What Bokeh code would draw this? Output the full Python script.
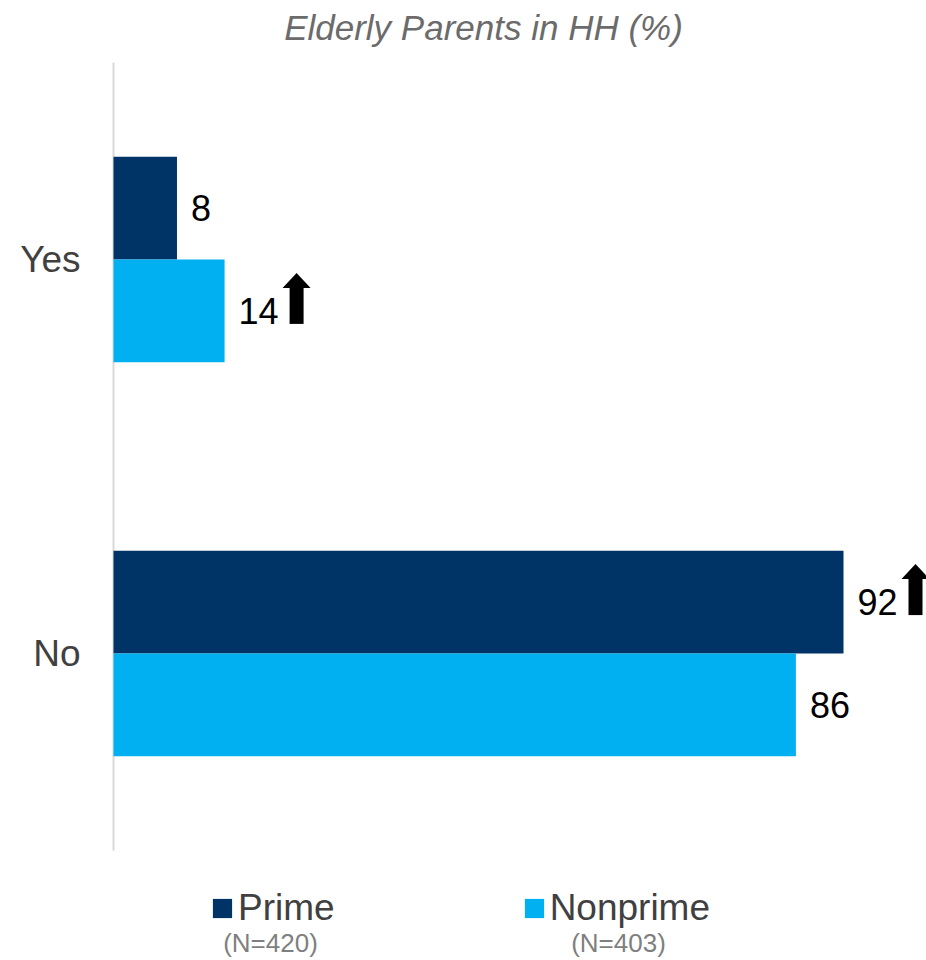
from bokeh.plotting import figure
from bokeh.models import Range1d, FixedTicker, Label, Legend, LegendItem, ColumnDataSource
from bokeh.core.properties import value
from bokeh.embed import file_html
from bokeh.resources import INLINE

# ---- data ----
categories = ["Yes", "No"]
series = ["Prime", "Nonprime"]
sample_sizes = ["(N=420)", "(N=403)"]
prime = [8, 92]
nonprime = [14, 86]
prime_up = [False, True]
nonprime_up = [True, False]
title_text = "Elderly Parents in HH (%)"
colors = ["#003366", "#00B0F0"]

# ---- layout constants (pixels) ----
W, H = 926, 960
LEFT = 111               # frame starts here; value 0 sits at x=113
ZERO_PX = 113
PLOT_TOP, PLOT_BOTTOM = 62, 850
FULL_PX = 843            # pixel where value 92 ends
FONT = "Liberation Sans"

n = len(categories)
SX = (FULL_PX - ZERO_PX) / max(prime + nonprime)
SY = (PLOT_BOTTOM - PLOT_TOP) / n
FW = W - LEFT
x_lo = -(ZERO_PX - LEFT) / SX
x_hi = x_lo + FW / SX
y_lo = -(H - PLOT_BOTTOM) / SY
y_hi = n + PLOT_TOP / SY
BH = 0.261               # bar height (y units)

p = figure(width=W, height=H, output_backend="svg", toolbar_location=None,
           x_range=Range1d(x_lo, x_hi), y_range=Range1d(y_lo, y_hi),
           x_axis_location=None,
           min_border_left=LEFT, min_border_right=0,
           min_border_top=0, min_border_bottom=0)
p.outline_line_color = None
p.grid.visible = False
p.background_fill_color = "white"
p.border_fill_color = "white"

# category axis line (only over the plotting band)
p.segment(x0=[0], y0=[0], x1=[0], y1=[n], line_color="#d9d9d9", line_width=2)

centers = [n - i - 0.5 for i in range(n)]
offsets = [BH / 2, -BH / 2]

renderers = []
for s, vals, ups, col, off in zip(series, [prime, nonprime], [prime_up, nonprime_up], colors, offsets):
    ys = [c + off for c in centers]
    src = ColumnDataSource(dict(y=ys, v=vals, t=[str(v) for v in vals]))
    r = p.hbar(y="y", left=0, right="v", height=BH, source=src,
               fill_color=col, line_color=None)
    renderers.append(r)
    p.text(x="v", y="y", text="t", source=src, x_offset=14,
           text_baseline="middle", text_align="left",
           text_font=value(FONT), text_font_size="36px", text_color="black")
    # significance arrows
    ax, ay = [], []
    for v, y, up in zip(vals, ys, ups):
        if up:
            ax.append(v)
            ay.append(y)
    if ax:
        DX, HALF_SHAFT, HALF_HEAD = 72, 7, 14
        TOP_PX, HEAD_PX, BOT_PX = 38, 15, 13
        cx = [x + DX / SX for x in ax]
        tops = [y + TOP_PX / SY for y in ay]
        bases = [t - HEAD_PX / SY for t in tops]
        bots = [y - BOT_PX / SY for y in ay]
        p.quad(left=[c - HALF_SHAFT / SX for c in cx], right=[c + HALF_SHAFT / SX for c in cx],
               top=[b + 0.5 / SY for b in bases], bottom=bots, fill_color="black", line_color=None)
        p.patches(xs=[[c - HALF_HEAD / SX, c + HALF_HEAD / SX, c] for c in cx],
                  ys=[[b, b, t] for b, t in zip(bases, tops)],
                  fill_color="black", line_color=None)

# y axis with category labels
yaxis = p.yaxis[0]
yaxis.ticker = FixedTicker(ticks=centers)
yaxis.major_label_overrides = {c: cat for c, cat in zip(centers, categories)}
yaxis.axis_line_color = None
yaxis.major_tick_line_color = None
yaxis.minor_tick_line_color = None
yaxis.major_label_standoff = 25
yaxis.major_label_text_font = FONT
yaxis.major_label_text_font_size = "37px"
yaxis.major_label_text_color = "#404040"

# legend (area glyphs are drawn at 80% of the glyph box)
legend = Legend(items=[LegendItem(label=s, renderers=[r]) for s, r in zip(series, renderers)],
                orientation="horizontal", location=(210 - LEFT, 31),
                glyph_width=24, glyph_height=24, label_standoff=4, spacing=187,
                padding=0, margin=0, border_line_color=None, background_fill_alpha=0,
                label_text_font=FONT, label_text_font_size="37px", label_text_color="#404040")
p.add_layout(legend, "center")

for xs, t in zip([270, 618], sample_sizes):
    p.add_layout(Label(x=xs - LEFT, y=H - 942, x_units="screen", y_units="screen", text=t,
                       text_align="center", text_baseline="middle",
                       text_font=FONT, text_font_size="26px", text_color="#7f7f7f"))

p.add_layout(Label(x=483 - LEFT, y=H - 27, x_units="screen", y_units="screen", text=title_text,
                   text_align="center", text_baseline="middle", text_font_style="italic",
                   text_font=FONT, text_font_size="35px", text_color="#6b6b6b"))

open("out.html", "w").write(file_html(p, INLINE))
